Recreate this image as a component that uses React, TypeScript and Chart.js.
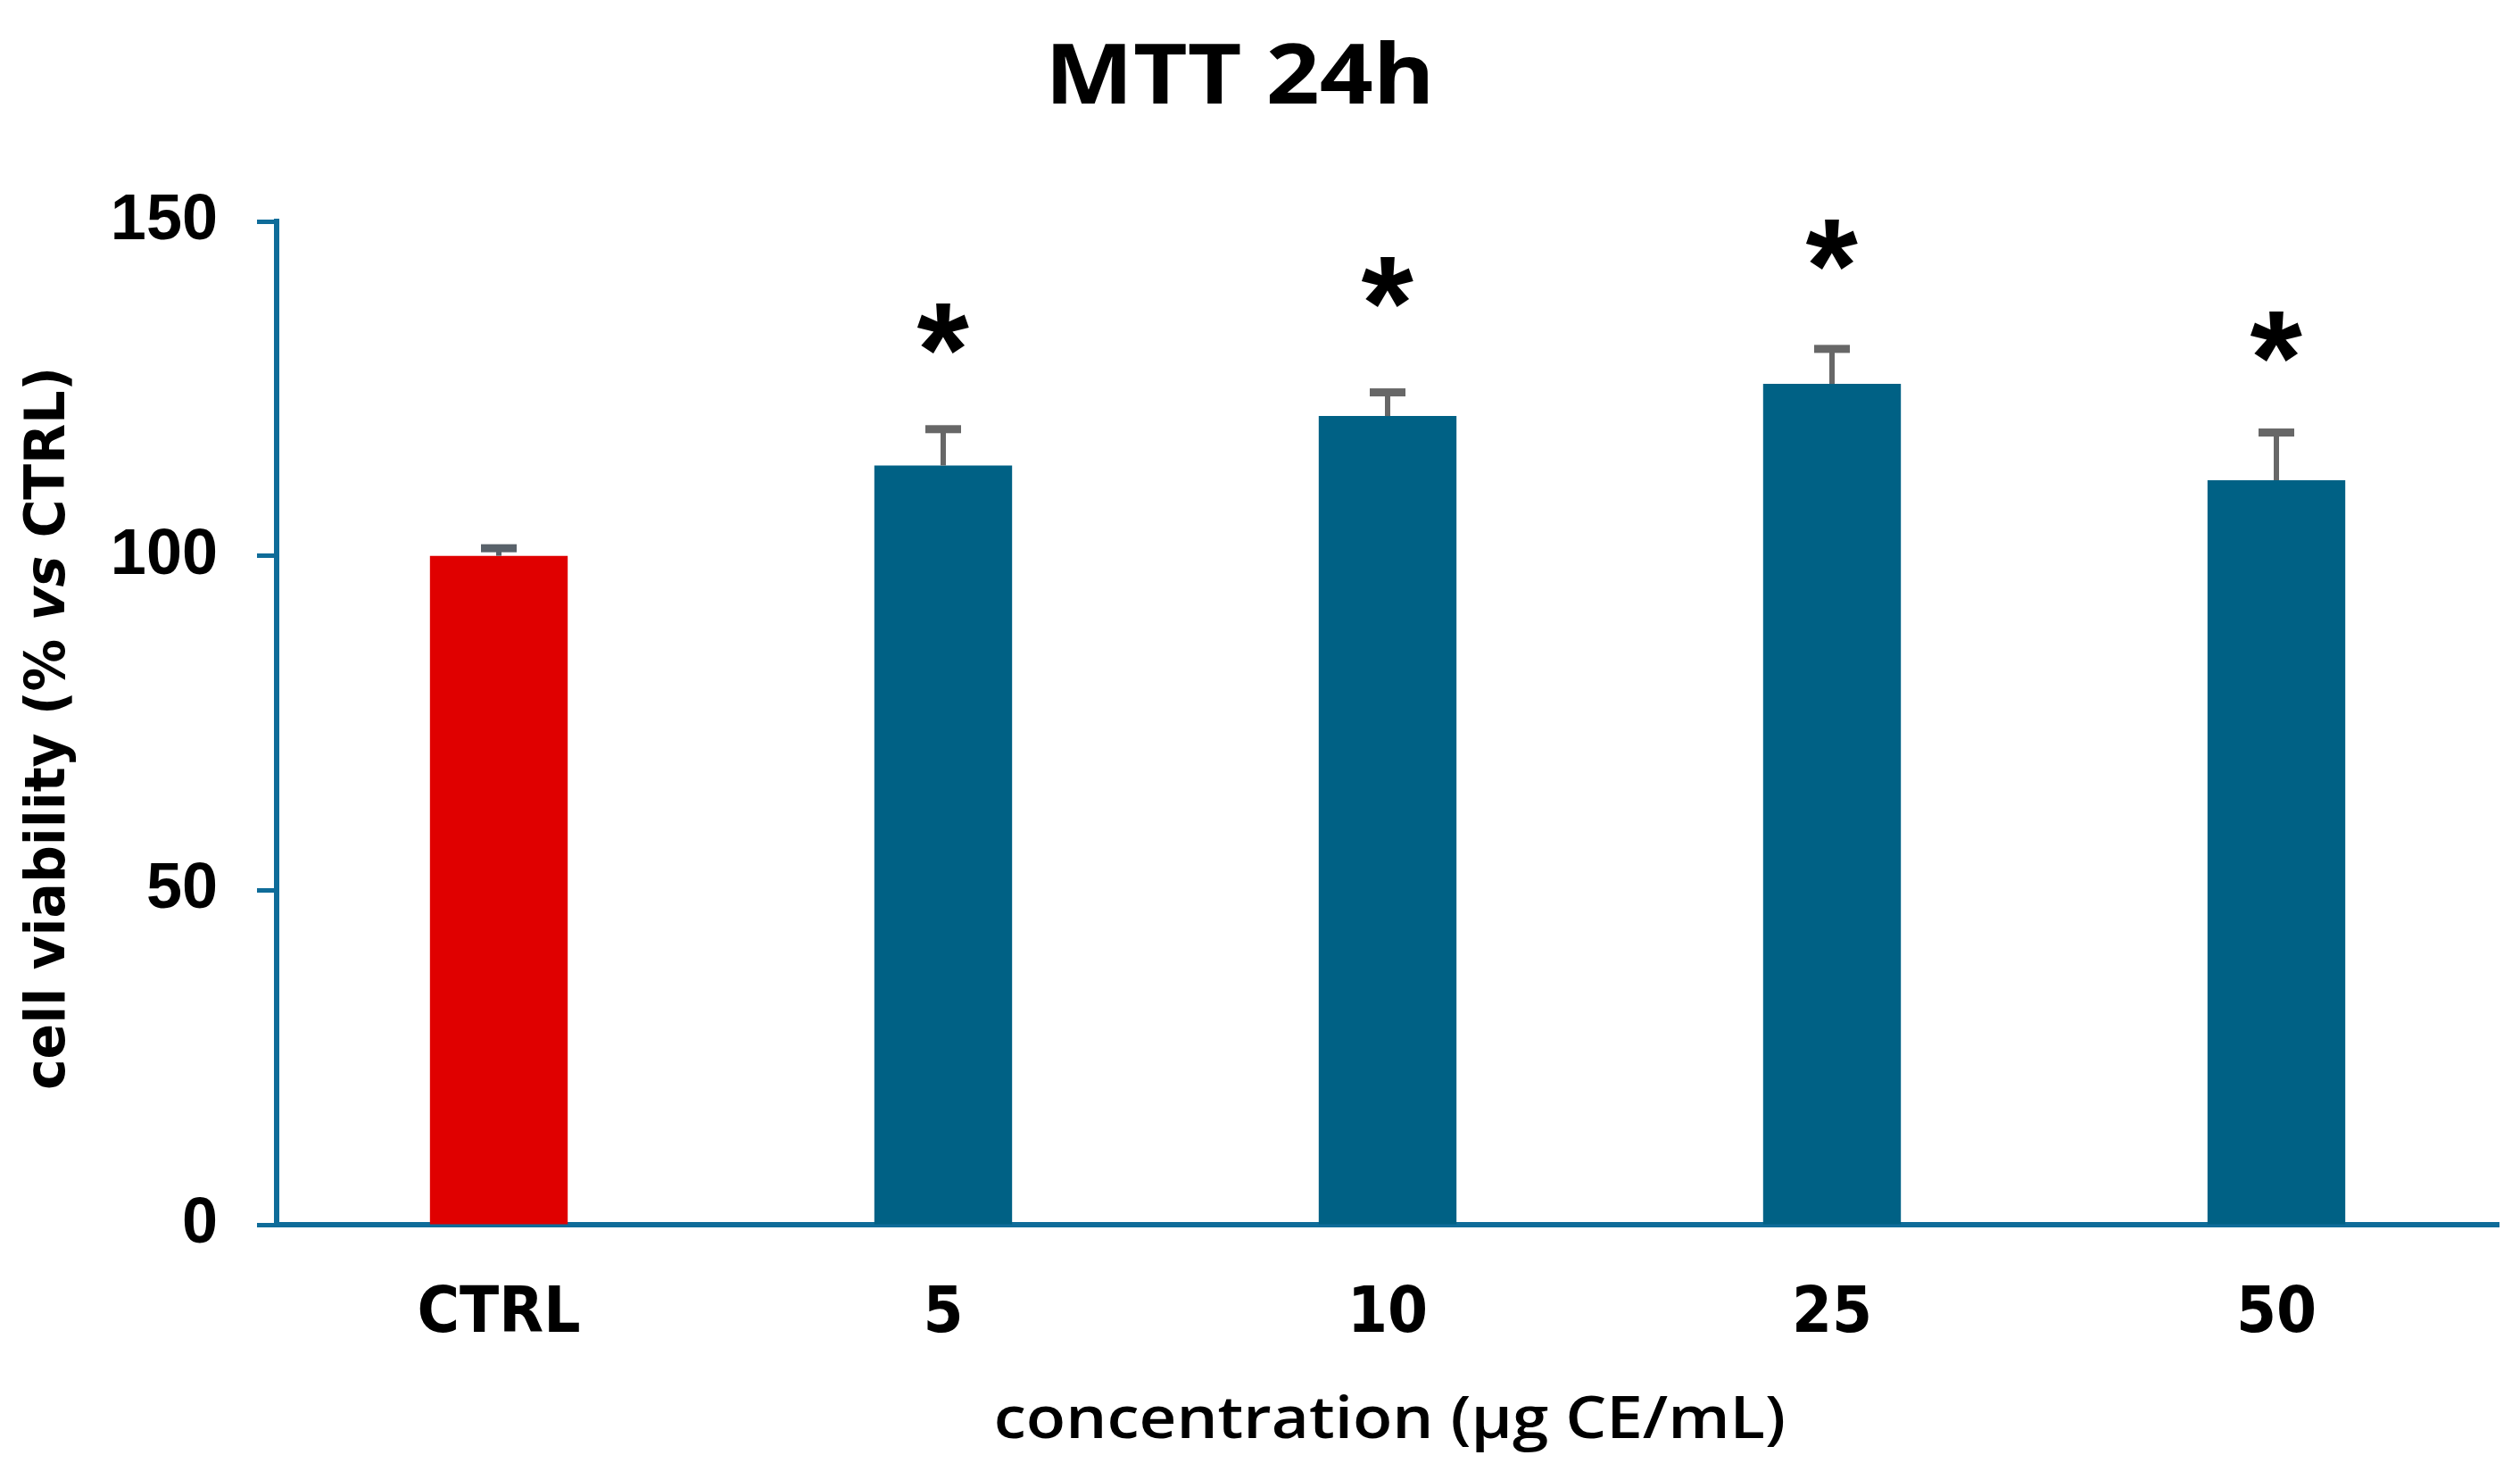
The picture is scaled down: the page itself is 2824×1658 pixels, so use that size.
import React, { useEffect, useRef } from "react";
import { Chart, registerables } from "chart.js";

Chart.register(...registerables);

// ---- data ----
const categories = ["CTRL", "5", "10", "25", "50"];
const viability = [100, 113.5, 120.9, 125.7, 111.3];
const sem = [1.2, 5.5, 3.6, 5.3, 7.2];
const starLevel: (number | null)[] = [null, 133.9, 140.9, 146.4, 132.7];
const yTicks = [0, 50, 100, 150];
const barColors = ["#E00000", "#006185", "#006185", "#006185", "#006185"];
const errColors = ["#59626A", "#676767", "#676767", "#676767", "#676767"];

const chartTitle = "MTT 24h";
const xTitle = "concentration (\u00b5g CE/mL)";
const yTitleParts = [
  { text: "cell viability (% ", italic: false },
  { text: "vs", italic: true },
  { text: " CTRL)", italic: false },
];

const AXIS = "#0F6C99";
const NARROW = "'Liberation Sans Narrow', 'DejaVu Sans Condensed', 'Liberation Sans', Arial, sans-serif";

function inkText(ctx: CanvasRenderingContext2D, text: string, cx: number, cy: number, font: string, targetWidth?: number) {
  ctx.save();
  ctx.font = font;
  ctx.textAlign = "left";
  ctx.textBaseline = "alphabetic";
  const m = ctx.measureText(text);
  const w = m.actualBoundingBoxLeft + m.actualBoundingBoxRight;
  const sx = targetWidth ? targetWidth / w : 1;
  ctx.translate(cx, cy);
  ctx.scale(sx, 1);
  ctx.fillText(text, m.actualBoundingBoxLeft - w / 2, (m.actualBoundingBoxAscent - m.actualBoundingBoxDescent) / 2);
  ctx.restore();
}

const overlay = {
  id: "overlay",
  afterDraw(chart: any) {
    const ctx: CanvasRenderingContext2D = chart.ctx;
    const meta = chart.getDatasetMeta(0);
    const y = chart.scales.y;
    const area = chart.chartArea;
    ctx.save();
    ctx.fillStyle = "#000";

    // error bars
    meta.data.forEach((bar: any, i: number) => {
      const top = y.getPixelForValue(viability[i] + sem[i]);
      ctx.strokeStyle = errColors[i];
      ctx.fillStyle = errColors[i];
      ctx.lineWidth = 6;
      ctx.beginPath();
      ctx.moveTo(bar.x, bar.y);
      ctx.lineTo(bar.x, top);
      ctx.stroke();
      ctx.fillRect(bar.x - 20, top - 4, 40, 9);
    });

    // significance stars
    ctx.fillStyle = "#000";
    meta.data.forEach((bar: any, i: number) => {
      const lv = starLevel[i];
      if (lv == null) return;
      inkText(ctx, "*", bar.x, y.getPixelForValue(lv), "bold 150px 'Liberation Sans', Arial, sans-serif");
    });

    // chart title
    inkText(ctx, chartTitle, 1390, 81, "bold 94px 'Open Sans', sans-serif", 420);

    // x axis title
    inkText(ctx, xTitle, (area.left + area.right) / 2 + 3, 1594, "600 66px 'Open Sans', sans-serif", 882);

    // y axis title (rotated, with italic "vs")
    const fontN = `bold 62px ${NARROW}`;
    const fontI = `italic bold 62px ${NARROW}`;
    let total = 0;
    const widths = yTitleParts.map((p) => {
      ctx.font = p.italic ? fontI : fontN;
      const w = ctx.measureText(p.text).width;
      total += w;
      return w;
    });
    ctx.font = fontN;
    const full = ctx.measureText(yTitleParts.map((p) => p.text).join(""));
    const target = 810;
    const sx = target / total;
    ctx.save();
    ctx.translate(55, 816);
    ctx.rotate(-Math.PI / 2);
    ctx.scale(sx, 1);
    ctx.textAlign = "left";
    ctx.textBaseline = "alphabetic";
    let x = -total / 2;
    const by = (full.actualBoundingBoxAscent - full.actualBoundingBoxDescent) / 2;
    yTitleParts.forEach((p, i) => {
      ctx.font = p.italic ? fontI : fontN;
      ctx.fillText(p.text, x, by);
      x += widths[i];
    });
    ctx.restore();

    ctx.restore();
  },
};

export default function App() {
  const ref = useRef<HTMLCanvasElement>(null);
  useEffect(() => {
    const chart = new Chart(ref.current as HTMLCanvasElement, {
      type: "bar",
      data: {
        labels: categories,
        datasets: [
          {
            data: viability,
            backgroundColor: barColors,
            borderWidth: 0,
            categoryPercentage: 1,
            barPercentage: 0.31,
          },
        ],
      },
      options: {
        animation: false,
        responsive: true,
        maintainAspectRatio: false,
        layout: { padding: { top: 248, right: 24, bottom: 0, left: 0 } },
        plugins: {
          legend: { display: false },
          tooltip: { enabled: false },
          title: { display: false },
        },
        scales: {
          x: {
            z: 1,
            grid: { display: false, drawTicks: false },
            border: { display: true, color: AXIS, width: 6 },
            ticks: {
              padding: 58,
              color: "#000",
              font: { family: NARROW, weight: "bold", size: 72 },
            },
            afterFit: (s: any) => {
              s.height = 286;
            },
          },
          y: {
            min: 0,
            max: 150,
            grid: {
              display: true,
              drawOnChartArea: false,
              drawTicks: true,
              tickLength: 22,
              tickWidth: 5,
              tickColor: AXIS,
            },
            border: { display: true, color: AXIS, width: 6 },
            ticks: {
              padding: 44,
              color: "#000",
              font: { family: "'Liberation Sans', Arial, sans-serif", weight: "bold", size: 72 },
            },
            afterBuildTicks: (s: any) => {
              s.ticks = yTicks.map((v) => ({ value: v }));
            },
            afterFit: (s: any) => {
              s.width = 310;
            },
          },
        },
      },
      plugins: [overlay],
    } as any);
    return () => chart.destroy();
  }, []);
  return (
    <div style={{ position: "fixed", left: 0, top: 0, width: 2824, height: 1658, background: "#fff" }}>
      <canvas ref={ref} />
    </div>
  );
}
